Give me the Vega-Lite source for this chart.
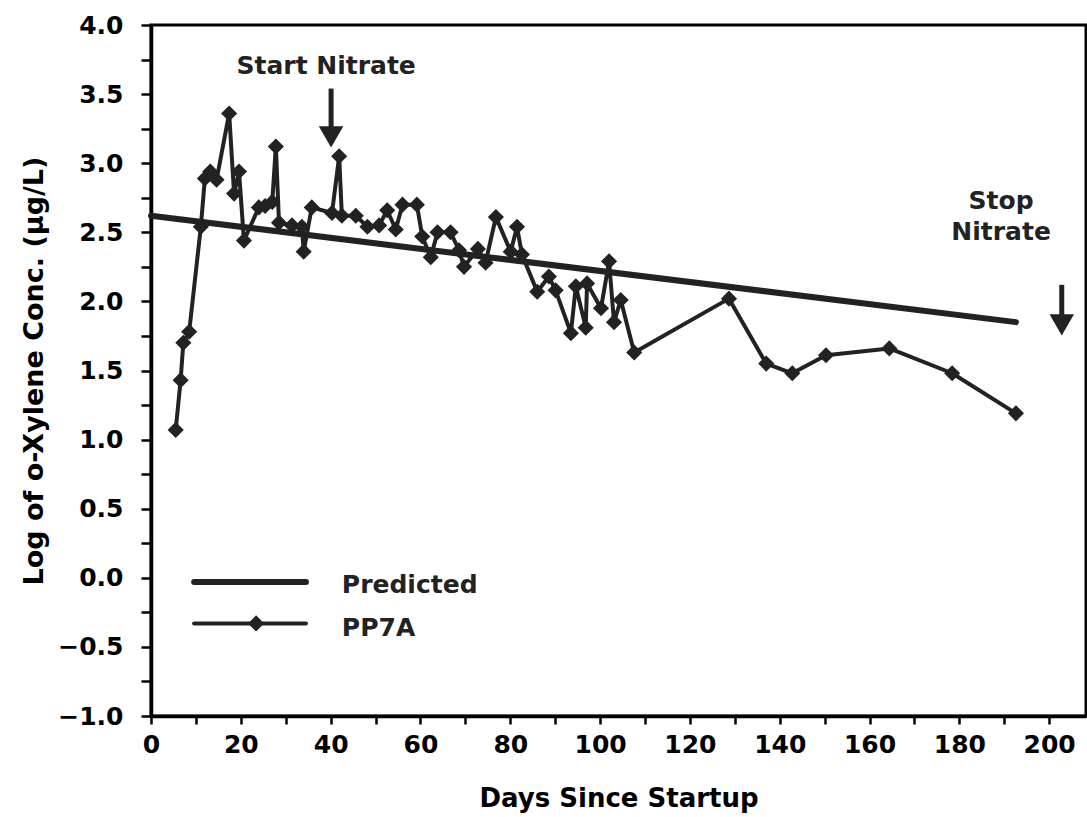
{
  "$schema": "https://vega.github.io/schema/vega-lite/v6.json",
  "autosize": {"type": "none"},
  "padding": {"left": 151, "top": 25, "right": 1, "bottom": 101},
  "width": 935,
  "height": 691,
  "background": "white",
  "config": {
    "view": {"stroke": "black", "strokeWidth": 3},
    "axis": {
      "domainColor": "black", "domainWidth": 3.5,
      "tickColor": "black", "tickWidth": 2.5,
      "labelColor": "black", "titleColor": "black",
      "labelFont": "DejaVu Sans", "labelFontWeight": "bold", "labelFontSize": 25,
      "titleFont": "DejaVu Sans", "titleFontWeight": "bold", "titleFontSize": 26,
      "grid": false, "labelFlush": false, "labelOverlap": false
    }
  },
  "datasets": {
    "predicted": [
      {"day": 0, "value": 2.62},
      {"day": 192.6, "value": 1.85}
    ],
    "pp7a": [
      {"day": 5.5, "value": 1.07},
      {"day": 6.6, "value": 1.43},
      {"day": 7.2, "value": 1.70},
      {"day": 8.5, "value": 1.78},
      {"day": 11.1, "value": 2.54},
      {"day": 12.0, "value": 2.89},
      {"day": 13.2, "value": 2.94},
      {"day": 14.6, "value": 2.88},
      {"day": 17.4, "value": 3.36},
      {"day": 18.5, "value": 2.78},
      {"day": 19.6, "value": 2.94},
      {"day": 20.7, "value": 2.44},
      {"day": 24.0, "value": 2.68},
      {"day": 25.4, "value": 2.69},
      {"day": 27.0, "value": 2.72},
      {"day": 27.8, "value": 3.12},
      {"day": 28.5, "value": 2.57},
      {"day": 31.4, "value": 2.55},
      {"day": 33.6, "value": 2.54},
      {"day": 34.0, "value": 2.36},
      {"day": 35.8, "value": 2.68},
      {"day": 40.3, "value": 2.64},
      {"day": 41.9, "value": 3.05},
      {"day": 42.5, "value": 2.62},
      {"day": 45.6, "value": 2.62},
      {"day": 48.2, "value": 2.54},
      {"day": 50.8, "value": 2.55},
      {"day": 52.6, "value": 2.66},
      {"day": 54.5, "value": 2.52},
      {"day": 56.0, "value": 2.70},
      {"day": 59.2, "value": 2.70},
      {"day": 60.4, "value": 2.47},
      {"day": 62.3, "value": 2.32},
      {"day": 63.8, "value": 2.50},
      {"day": 66.7, "value": 2.50},
      {"day": 68.6, "value": 2.37},
      {"day": 69.7, "value": 2.25},
      {"day": 72.8, "value": 2.38},
      {"day": 74.5, "value": 2.28},
      {"day": 76.8, "value": 2.61},
      {"day": 80.1, "value": 2.36},
      {"day": 81.5, "value": 2.54},
      {"day": 82.6, "value": 2.34},
      {"day": 86.0, "value": 2.07},
      {"day": 88.6, "value": 2.18},
      {"day": 90.1, "value": 2.08},
      {"day": 93.5, "value": 1.77},
      {"day": 94.6, "value": 2.11},
      {"day": 96.8, "value": 1.81},
      {"day": 97.1, "value": 2.13},
      {"day": 100.2, "value": 1.95},
      {"day": 102.0, "value": 2.29},
      {"day": 103.1, "value": 1.85},
      {"day": 104.6, "value": 2.01},
      {"day": 107.6, "value": 1.63},
      {"day": 128.7, "value": 2.02},
      {"day": 137.0, "value": 1.55},
      {"day": 142.8, "value": 1.48},
      {"day": 150.3, "value": 1.61},
      {"day": 164.4, "value": 1.66},
      {"day": 178.4, "value": 1.48},
      {"day": 192.6, "value": 1.19}
    ],
    "notes": [
      {"day": 39.0, "value": 3.70, "label": "Start Nitrate"},
      {"day": 189.3, "value": 2.73, "label": "Stop"},
      {"day": 189.3, "value": 2.50, "label": "Nitrate"}
    ],
    "shafts": [
      {"day": 40.1, "value": 3.54, "value2": 3.22},
      {"day": 202.8, "value": 2.12, "value2": 1.86}
    ],
    "heads": [
      {"day": 40.1, "value": 3.19},
      {"day": 202.8, "value": 1.83}
    ],
    "legendPred": [
      {"day": 9.6, "value": -0.03},
      {"day": 34.5, "value": -0.03}
    ],
    "legendPP": [
      {"day": 9.6, "value": -0.33},
      {"day": 34.5, "value": -0.33}
    ],
    "legendDot": [
      {"day": 23.4, "value": -0.33}
    ],
    "legendText": [
      {"day": 42.5, "value": -0.05, "label": "Predicted"},
      {"day": 42.5, "value": -0.36, "label": "PP7A"}
    ]
  },
  "encoding": {
    "x": {
      "field": "day", "type": "quantitative",
      "scale": {"domain": [0, 208.2], "nice": false, "zero": false},
      "axis": {
        "title": "Days Since Startup",
        "values": [0,10,20,30,40,50,60,70,80,90,100,110,120,130,140,150,160,170,180,190,200],
        "labelExpr": "datum.value % 20 === 0 ? datum.label : ''",
        "tickSize": 8, "labelPadding": 8, "titlePadding": 28
      }
    },
    "y": {
      "field": "value", "type": "quantitative",
      "scale": {"domain": [-1, 4], "nice": false, "zero": false},
      "axis": {
        "title": "Log of o-Xylene Conc. (µg/L)",
        "titleFontSize": 27,
        "values": [-1,-0.75,-0.5,-0.25,0,0.25,0.5,0.75,1,1.25,1.5,1.75,2,2.25,2.5,2.75,3,3.25,3.5,3.75,4],
        "labelExpr": "abs(datum.value*2 - round(datum.value*2)) < 0.001 ? format(datum.value, '.1f') : ''",
        "tickSize": 10, "labelPadding": 18, "titlePadding": 9
      }
    }
  },
  "layer": [
    {
      "data": {"name": "predicted"},
      "mark": {"type": "line", "color": "#222", "strokeWidth": 6, "strokeCap": "round"}
    },
    {
      "data": {"name": "pp7a"},
      "mark": {"type": "line", "color": "#222", "strokeWidth": 4, "strokeJoin": "round"}
    },
    {
      "data": {"name": "pp7a"},
      "mark": {"type": "point", "shape": "diamond", "filled": true, "color": "#222", "size": 260, "opacity": 1}
    },
    {
      "data": {"name": "notes"},
      "mark": {"type": "text", "font": "DejaVu Sans", "fontWeight": "bold", "fontSize": 25, "color": "#222", "align": "center", "baseline": "middle"},
      "encoding": {"text": {"field": "label"}}
    },
    {
      "data": {"name": "shafts"},
      "mark": {"type": "rule", "color": "#222", "strokeWidth": 5},
      "encoding": {"y2": {"field": "value2"}}
    },
    {
      "data": {"name": "heads"},
      "mark": {"type": "point", "shape": "triangle-down", "filled": true, "color": "#222", "size": 600, "opacity": 1}
    },
    {
      "data": {"name": "legendPred"},
      "mark": {"type": "line", "color": "#222", "strokeWidth": 6, "strokeCap": "round"}
    },
    {
      "data": {"name": "legendPP"},
      "mark": {"type": "line", "color": "#222", "strokeWidth": 4, "strokeCap": "round"}
    },
    {
      "data": {"name": "legendDot"},
      "mark": {"type": "point", "shape": "diamond", "filled": true, "color": "#222", "size": 260, "opacity": 1}
    },
    {
      "data": {"name": "legendText"},
      "mark": {"type": "text", "font": "DejaVu Sans", "fontWeight": "bold", "fontSize": 25, "color": "#222", "align": "left", "baseline": "middle"},
      "encoding": {"text": {"field": "label"}}
    }
  ]
}
